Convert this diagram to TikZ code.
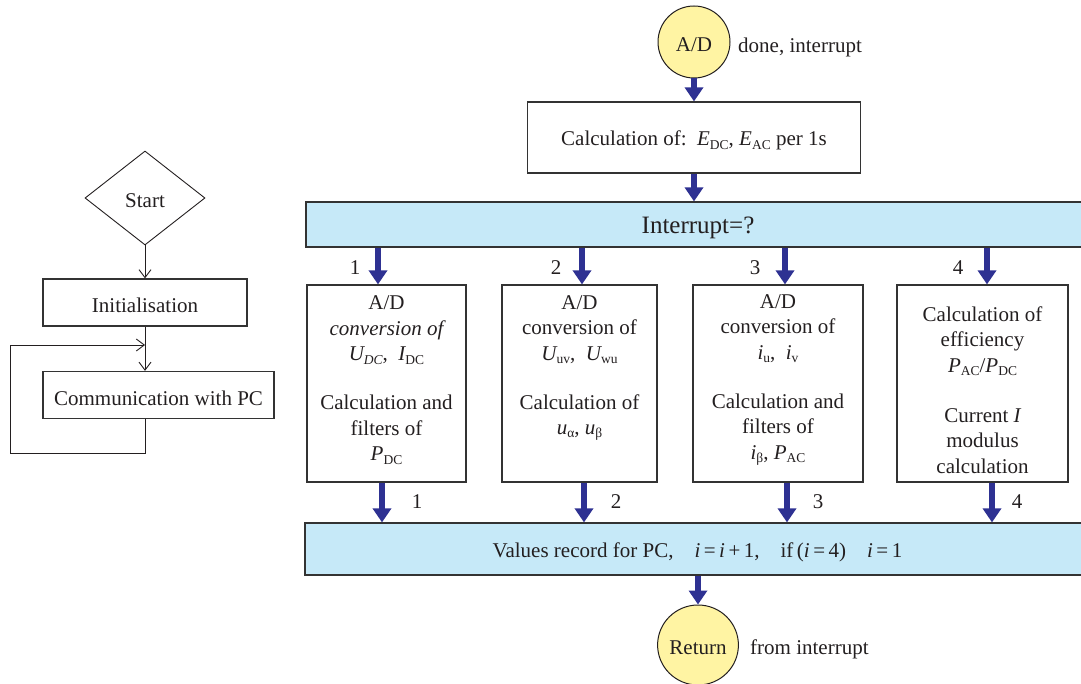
\documentclass[tikz,border=0pt]{standalone}
\usepackage{fontspec}
\setmainfont{Liberation Serif}
\usetikzlibrary{arrows.meta,shapes.geometric}
\definecolor{navy}{HTML}{2E3192}
\definecolor{barfill}{HTML}{C6E9F8}
\definecolor{yel}{HTML}{FFF4A3}
\definecolor{edge}{HTML}{333333}
\definecolor{ink}{HTML}{231F20}
\newcommand\lo[1]{\raisebox{-0.35ex}{\fontsize{13.5}{13.5}\selectfont #1}}
\newcommand\dn[1]{\raisebox{-3pt}[\height][\depth]{#1}}
\begin{document}
\begin{tikzpicture}[x=1pt,y=-1pt,
  every node/.style={font=\fontsize{21}{25.5}\selectfont, text=ink},
  box/.style={draw=edge, line width=1.2pt, inner sep=0pt},
  bar/.style={draw=edge, line width=1.2pt, fill=barfill, inner sep=0pt},
  term/.style={ellipse, draw=ink, line width=1pt, fill=yel, inner sep=0pt},
  thinarrow/.style={draw=ink, line width=0.9pt, -{Straight Barb[length=8pt,width=12pt]}},
  big/.style={navy, line width=5.5pt, -{Triangle[length=14pt,width=18pt]}},
  txt/.style={align=center, inner sep=0pt}
]
\useasboundingbox (0,0) rectangle (1081,684);

% ---------- left part ----------
\node[diamond, draw=ink, line width=0.9pt, minimum width=120pt, minimum height=94pt, inner sep=0pt] (start) at (145,198) {\dn{Start}};
\node[box, minimum width=204pt, minimum height=47pt] (init) at (145,302.5) {\dn{Initialisation}};
\node[box, minimum width=231pt, minimum height=47pt] (comm) at (158.5,395) {\dn{Communication with PC}};
\coordinate (c0) at (145,418.7);
\coordinate (c1) at (145,453);
\coordinate (c2) at (10,453);
\coordinate (c3) at (10,345);
\coordinate (c4) at (145,345);
\draw[thinarrow] (start.south) -- (init.north);
\draw[thinarrow] (init.south) -- (init.south |- comm.north);
\draw[thinarrow] (c0) -- (c1) -- (c2) -- (c3) -- (c4);

% ---------- right part ----------
\node[term, minimum width=72pt, minimum height=72pt] (ad) at (694,42) {\dn{A/D}};
\node[anchor=west, inner sep=0pt] (adl) at (738,47) {done, interrupt};
\node[box, minimum width=333pt, minimum height=71pt] (calc) at (694,137.5) {\dn{Calculation of:\ \ {\itshape E}\lo{DC}, {\itshape E}\lo{AC} per 1s}};
\node[bar, minimum width=784pt, minimum height=45pt] (irq) at (698,224.5) {\fontsize{25}{30}\selectfont\dn{Interrupt=?}};

\draw[big] (ad.south) -- (calc.north);
\draw[big] (calc.south) -- (calc.south |- irq.north);

\node[box, minimum width=159pt, minimum height=197pt] (b1) at (386.5,383.5) {};
\node[box, minimum width=155pt, minimum height=197pt] (b2) at (579.5,383.5) {};
\node[box, minimum width=170pt, minimum height=197pt] (b3) at (778,383.5) {};
\node[box, minimum width=171pt, minimum height=197pt] (b4) at (982.5,383.5) {};

\node[txt] (t1) at (386.5,380) {A/D\\ {\itshape conversion of}\\ {\itshape U}\lo{\itshape DC},\ \ {\itshape I}\lo{DC}\\[23.5pt] Calculation and\\ filters of\\ {\itshape P}\lo{DC}};
\node[txt] (t2) at (579.5,368) {A/D\\ conversion of\\ {\itshape U}\lo{uv},\ \ {\itshape U}\lo{wu}\\[23.5pt] Calculation of\\ {\itshape u}\lo{α}, {\itshape u}\lo{β}};
\node[txt] (t3) at (778,380) {A/D\\ conversion of\\ {\itshape i}\lo{u},\ \ {\itshape i}\lo{v}\\[23.5pt] Calculation and\\ filters of\\ {\itshape i}\lo{β}, {\itshape P}\lo{AC}};
\node[txt] (t4) at (982.5,390) {Calculation of\\ efficiency\\ {\itshape P}\lo{AC}/{\itshape P}\lo{DC}\\[24.5pt] Current {\itshape I}\\ modulus\\ calculation};

\coordinate (x1) at (378,0);
\coordinate (x2) at (582,0);
\coordinate (x3) at (785,0);
\coordinate (x4) at (987,0);
\draw[big] (irq.south -| x1) -- (b1.north -| x1);
\draw[big] (irq.south -| x2) -- (b2.north -| x2);
\draw[big] (irq.south -| x3) -- (b3.north -| x3);
\draw[big] (irq.south -| x4) -- (b4.north -| x4);
\node (n1) at (355,268) {1};
\node (n2) at (556,268) {2};
\node (n3) at (755,268) {3};
\node (n4) at (958,268) {4};

\node[bar, minimum width=785pt, minimum height=52pt] (rec) at (697.5,549) {\dn{Values record for PC,\quad {\itshape i}\,=\,{\itshape i}\,+\,1,\quad if\,({\itshape i}\,=\,4)\quad {\itshape i}\,=\,1}};

\coordinate (y1) at (382,0);
\coordinate (y2) at (584,0);
\coordinate (y3) at (787,0);
\coordinate (y4) at (992,0);
\draw[big] (b1.south -| y1) -- (rec.north -| y1);
\draw[big] (b2.south -| y2) -- (rec.north -| y2);
\draw[big] (b3.south -| y3) -- (rec.north -| y3);
\draw[big] (b4.south -| y4) -- (rec.north -| y4);
\node (m1) at (417,502) {1};
\node (m2) at (616,502) {2};
\node (m3) at (818,502) {3};
\node (m4) at (1017,502) {4};

\node[term, minimum width=80pt, minimum height=80pt] (ret) at (698,645) {\dn{Return}};
\node[anchor=west, inner sep=0pt] (retl) at (750,649) {from interrupt};
\draw[big] (ret.north |- rec.south) -- (ret.north);
\end{tikzpicture}
\end{document}
